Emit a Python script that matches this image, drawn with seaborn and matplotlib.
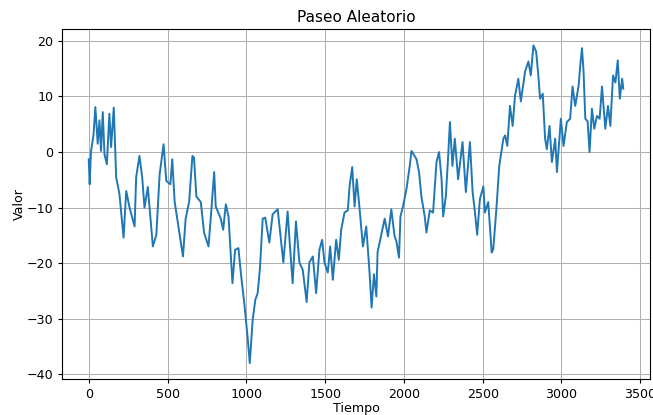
import matplotlib
matplotlib.use("Agg")
import matplotlib.pyplot as plt
import seaborn as sns
import pandas as pd

tiempo = [0, 6, 14, 30, 42, 57, 68, 78, 89, 100, 115, 131, 142, 159, 174, 195, 221, 238, 259, 291, 301,
          322, 339, 354, 375, 397, 407, 429, 450, 475, 492, 518, 530, 545, 577, 598, 615, 637, 658, 668, 683,
          711, 732, 760, 775, 796, 806, 838, 853, 870, 887, 912, 929, 950, 965, 987, 1008, 1022, 1040, 1057, 1072,
          1087, 1104, 1120, 1146, 1167, 1199, 1220, 1235, 1262, 1277, 1294, 1315, 1337, 1358, 1383, 1400, 1422, 1443, 1464, 1481,
          1496, 1517, 1532, 1549, 1570, 1587, 1602, 1623, 1644, 1655, 1672, 1687, 1701, 1719, 1740, 1761, 1782, 1795, 1810, 1825,
          1833, 1846, 1878, 1899, 1920, 1941, 1952, 1969, 1978, 1994, 2016, 2037, 2048, 2080, 2096, 2111, 2132, 2143, 2164, 2185,
          2207, 2223, 2239, 2249, 2266, 2281, 2292, 2308, 2323, 2344, 2372, 2393, 2419, 2436, 2451, 2465, 2482, 2504, 2514, 2535,
          2557, 2567, 2588, 2605, 2631, 2642, 2656, 2673, 2690, 2705, 2726, 2742, 2769, 2790, 2805, 2822, 2839, 2853, 2864, 2881,
          2896, 2907, 2924, 2939, 2960, 2971, 2996, 3013, 3034, 3055, 3070, 3087, 3109, 3119, 3130, 3140, 3151, 3166, 3178, 3193,
          3208, 3225, 3242, 3257, 3278, 3295, 3310, 3327, 3342, 3357, 3370, 3385, 3392]
valor = [-1.3, -5.8, 0.0, 3.0, 8.1, 1.5, 5.7, 0.2, 7.2, -0.4, -2.2, 6.9, 0.9, 8.0, -4.5, -7.6, -15.4, -7.0, -10.0, -13.4, -4.5,
         -0.7, -4.5, -10.0, -6.3, -13.6, -17.0, -14.9, -4.0, 1.4, -5.2, -5.8, -1.3, -8.9, -14.9, -18.8, -12.0, -9.0, -0.7, -1.0, -8.0,
         -9.0, -14.5, -17.0, -11.6, -3.6, -9.8, -12.0, -14.0, -9.4, -11.6, -23.6, -17.6, -17.3, -21.7, -27.2, -33.3, -38.0, -30.3, -26.6, -25.4,
         -20.7, -12.0, -11.8, -16.3, -11.2, -10.3, -15.8, -19.9, -10.7, -17.0, -23.6, -12.5, -19.9, -21.2, -27.0, -19.9, -18.8, -25.4, -17.6, -15.8,
         -19.9, -21.7, -17.0, -23.0, -15.8, -19.4, -14.0, -10.9, -10.5, -6.2, -2.7, -9.8, -4.9, -10.3, -17.0, -13.4, -21.7, -28.0, -22.0, -26.0,
         -18.0, -16.3, -12.0, -15.2, -10.3, -15.2, -16.0, -19.0, -11.6, -9.8, -6.7, -2.5, 0.2, -1.3, -3.6, -8.0, -11.6, -14.5, -10.5, -10.9,
         -1.8, 0.0, -4.9, -11.6, -8.0, -0.7, 5.4, -2.5, 2.4, -4.9, 1.8, -7.2, 1.8, -7.2, -10.9, -14.9, -8.5, -6.2, -10.9, -9.0,
         -18.1, -17.5, -9.8, -2.5, 2.4, 3.0, 1.1, 8.3, 4.7, 10.1, 13.2, 9.1, 14.5, 16.3, 13.8, 19.2, 18.1, 13.8, 9.6, 10.5,
         2.4, 0.5, 4.7, -1.8, 2.4, -3.6, 6.0, 1.1, 5.4, 6.0, 11.8, 8.3, 12.0, 15.6, 18.7, 14.5, 6.0, 5.5, 0.0, 7.8,
         4.2, 6.5, 6.0, 11.8, 4.2, 8.3, 4.7, 13.8, 12.5, 16.5, 9.6, 13.2, 11.4]

df = pd.DataFrame({"Tiempo": tiempo, "Valor": valor})

plt.rcParams.update(plt.rcParamsDefault)
fs = 9.1
fig, ax = plt.subplots(figsize=(6.53, 4.15), dpi=100)
fig.subplots_adjust(left=62 / 653, right=650 / 653, top=1 - 29.5 / 415, bottom=1 - 379 / 415)
sns.lineplot(data=df, x="Tiempo", y="Valor", ax=ax, color="#1f77b4", linewidth=1.4)
ax.set_title("Paseo Aleatorio", fontsize=11, pad=5.5)
ax.set_xlabel("Tiempo", fontsize=fs, labelpad=0.5)
ax.set_ylabel("Valor", fontsize=fs, labelpad=0.5)
ax.tick_params(labelsize=fs, length=3.2, pad=3.2)
ax.grid(True, color="#b0b0b0", linewidth=0.75)
fig.savefig("out.png", dpi=100)
